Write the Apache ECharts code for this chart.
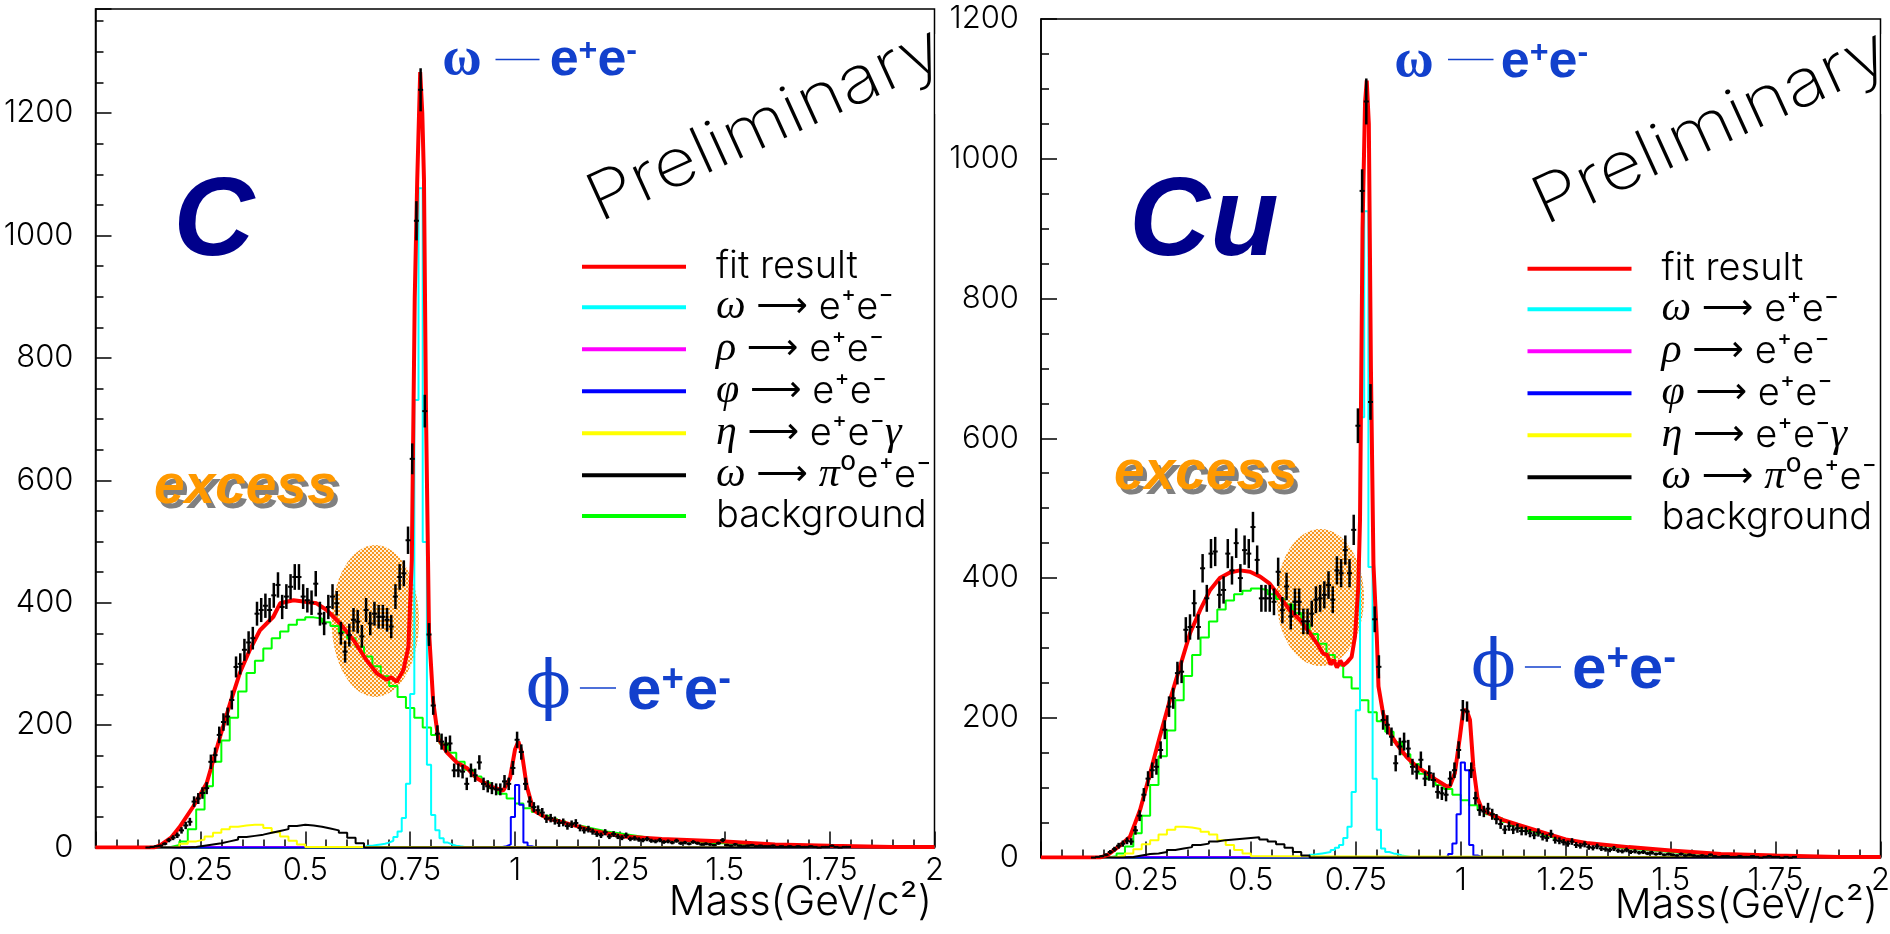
<!DOCTYPE html>
<html>
<head>
  <meta charset="utf-8">
  <title>e+e- invariant mass, C and Cu</title>
  <script src="https://cdn.jsdelivr.net/npm/echarts@6/dist/echarts.min.js"></script>
</head>
<body style="margin:0;background:#fff;">
<div id="main" style="width:1890px;height:934px;"></div>
<script type="text/javascript">
  // ---- C target (left panel) ----
  // fit result curve, [mass, counts]
  var cFit = [[0,0],[0.14,0],[0.155,4],[0.18,16],[0.2,33],[0.233,67],[0.265,105],[0.297,181],[0.321,236],[0.344,285],
    [0.368,323],[0.392,355],[0.424,377],[0.44,399],[0.472,404],[0.495,402],[0.527,399],[0.551,388],[0.583,366],
    [0.615,339],[0.646,306],[0.67,285],[0.694,274],[0.705,278],[0.718,271],[0.734,290],[0.746,328],[0.754,470],
    [0.761,898],[0.767,1092],[0.774,1267],[0.779,1200],[0.783,1092],[0.788,703],[0.795,353],[0.805,238],[0.817,178],
    [0.837,156],[0.861,139],[0.885,130],[0.909,113],[0.941,100],[0.972,93],[0.988,113],[1.0,160],[1.008,173],
    [1.016,156],[1.028,100],[1.044,61],[1.076,48],[1.115,41],[1.195,26],[1.258,18],[1.35,14],[1.5,10],[1.62,5],
    [1.75,3],[1.9,1],[2,1]];
  // measured counts, bins of 0.01 starting at centre 0.125
  var cData = [0,1,2,
    3,6,12,16,20,28,36,42,75,80, 89,97,140,151,184,205,214,241,295,300,
    323,335,342,382,388,395,388,412,429,393, 410,426,442,442,410,404,400,431,382,366,
    393,410,399,350,320,347,372,369,345,388, 366,382,377,377,372,361,410,442,448,502,
    635,1024,1238,713,348,232,186,173,168,170, 126,126,124,104,126,118,139,104,100,97,
    95,95,108,104,130,176,156,104,75,66, 61,57,47,48,44,40,41,35,38,40,
    32,28,30,26,22,20,25,18,22,18, 16,20,14,15,13,12,14,11,10,12,
    9,10,8,11,7,8,6,9,7,5, 6,5,4,7,12,4,3,5,3,2,
    3,4,2,3,2,2,3,1,2,1, 2,1,2,1,1,2,1,0,1,1, 3,1,0,1,1];
  // component histograms (low edge, bin width given where used)
  var cOmega = [3,3,4,5,6,8,11,17,26,48,104,251,731,1077,499,135,53,28,15,8,5,3,2,1];      // from 0.64, w 0.01
  var cRho = [1,1,1,1,1,1,1,1,1,1,1,1,1,1,1,1];                                           // from 0.20, w 0.02
  var cPhi = [1,2,5,50,102,70,8,2,0];                                                     // from 0.96, w 0.01
  var cEta = [1,6,10,13,18,24,30,34,36,37,37,32,25,18,11,5,1];                            // from 0.18, w 0.02
  var cOmDal = [1,3,5,7,10,13,17,19,21,24,27,30,35,37,36,34,31,28,24,16,7];               // from 0.22, w 0.02
  var cBkg = [0,1,4,10,30,62,100,140,175,212,255,285,305,325,342,353,364,372,376,374,368,362,352,342,
    328,312,296,280,264,246,228,212,196,184,170,155,140,127,116,106,97,88,80,72,64,58,52,47,43,39,35,
    32,29,26,24,22,20,18,16,15,13,12,11,10,9,8,7,7,6,5,5,4,4,3,3,3,2,2,2,2,1,1,1,1,1,1,1,1,1,1,0,0,0]; // from 0.14, w 0.02

  // ---- Cu target (right panel) ----
  var cuFit = [[0,0],[0.14,0],[0.159,4],[0.188,17],[0.212,30],[0.236,68],[0.26,121],[0.283,173],[0.307,225],
    [0.331,273],[0.355,321],[0.379,354],[0.403,383],[0.426,400],[0.45,408],[0.474,411],[0.498,409],[0.522,402],
    [0.545,392],[0.569,373],[0.593,354],[0.617,340],[0.641,321],[0.657,307],[0.672,292],[0.682,290],[0.69,276],
    [0.697,283],[0.705,272],[0.713,282],[0.72,275],[0.73,280],[0.74,287],[0.748,316],[0.756,388],[0.76,483],
    [0.766,900],[0.772,1080],[0.776,1112],[0.781,1050],[0.786,700],[0.792,420],[0.8,316],[0.804,245],[0.815,206],
    [0.831,178],[0.847,163],[0.871,144],[0.895,130],[0.919,121],[0.942,111],[0.966,102],[0.974,102],[0.986,121],
    [0.998,173],[1.006,211],[1.014,211],[1.022,197],[1.03,130],[1.04,85],[1.05,70],[1.064,64],[1.1,54],[1.136,47],
    [1.207,34],[1.25,26],[1.3,21],[1.4,15],[1.5,10],[1.62,5],[1.75,3],[1.9,1],[2,1]];
  var cuData = [0,1,2,
    4,8,12,17,20,24,23,39,60,90, 113,125,130,154,183,216,228,264,266,326,
    330,364,330,414,371,435,438,376,383,435, 411,450,400,440,435,473,426,371,371,371,
    366,409,354,388,345,366,366,338,338,349, 369,371,376,390,369,411,407,440,407,469,
    618,954,1082,652,341,273,197,190,173,135, 159,166,156,130,123,140,113,121,111,94,
    92,90,113,125,154,211,209,125,85,68, 66,70,62,55,48,40,45,40,42,38,
    38,35,32,36,30,28,34,25,24,22, 20,23,18,17,19,15,14,16,13,12,
    11,13,10,9,11,8,9,7,8,6, 7,5,6,4,5,4,3,5,3,4,
    3,2,3,2,4,2,1,2,2,1, 1,2,1,1,2,1,0,1,2,1, 1,0,1,0,1];
  var cuOmega = [4,5,6,7,8,11,14,18,28,44,94,211,630,925,416,113,40,13,8,6,5,3,2,1];        // from 0.64, w 0.01
  var cuRho = [1,1,1,1,1,1,1,1,1,1,1,1,1,1,1,1,1,1];                                     // from 0.20, w 0.02
  var cuPhi = [2,5,20,62,136,125,18,3,1];                                                 // from 0.96, w 0.01
  var cuEta = [1,3,6,12,19,25,33,40,44,43,41,37,33,25,18,11,6,2];                         // from 0.16, w 0.02
  var cuOmDal = [1,3,5,6,8,11,13,15,18,20,23,25,26,27,28,29,26,23,19,14,8,3];             // from 0.20, w 0.02
  var cuBkg = [0,2,6,16,35,60,104,145,182,225,260,290,315,338,355,368,377,382,385,383,377,370,362,350,
    334,320,306,290,275,258,242,225,208,195,180,165,148,134,120,112,104,98,90,82,75,68,62,56,51,46,42,
    38,34,31,28,25,23,21,19,17,15,14,13,12,11,10,9,8,7,6,6,5,5,4,4,3,3,3,2,2,2,2,1,1,1,1,1,1,1,1,1,1,1]; // from 0.14, w 0.02

  var legendNames = ['fit result', 'omega', 'rho', 'phi', 'eta', 'omega Dalitz', 'background'];
  var legendText = {
    'fit result': 'fit result',
    'omega': '{g|ω} {a|⟶} e⁺e⁻',
    'rho': '{g|ρ} {a|⟶} e⁺e⁻',
    'phi': '{g|φ} {a|⟶} e⁺e⁻',
    'eta': '{g|η} {a|⟶} e⁺e⁻{g|γ}',
    'omega Dalitz': '{g|ω} {a|⟶} {g|π}⁰e⁺e⁻',
    'background': 'background'
  };

  // step histogram: bins [lo + i*w, lo + (i+1)*w)
  function hist(lo, w, vals) {
    var pts = [[0, 0]];
    for (var i = 0; i < vals.length; i++) pts.push([+(lo + i * w).toFixed(3), vals[i]]);
    pts.push([+(lo + vals.length * w).toFixed(3), 0]);
    pts.push([2, 0]);
    return pts;
  }
  function points(lo, vals) {
    return vals.map(function (v, i) { return [+(lo + i * 0.01).toFixed(3), v]; });
  }
  function cross(params, api) {
    var x = api.value(0), y = api.value(1), e = Math.sqrt(y);
    var a = api.coord([x - 0.006, y]), b = api.coord([x + 0.006, y]);
    var t = api.coord([x, y + e]), u = api.coord([x, y - e]);
    return {type: 'group', children: [
      {type: 'line', shape: {x1: a[0], y1: a[1], x2: b[0], y2: b[1]}, style: {stroke: '#000', lineWidth: 2}},
      {type: 'line', shape: {x1: t[0], y1: t[1], x2: u[0], y2: u[1]}, style: {stroke: '#000', lineWidth: 2.5}}
    ]};
  }
  function histSeries(name, color, data, gi, width) {
    return {name: name, type: 'line', xAxisIndex: gi, yAxisIndex: gi === 0 ? 0 : 2, data: data, step: 'end',
      showSymbol: false, symbol: 'none', color: color, lineStyle: {color: color, width: width || 2}, silent: true};
  }
  function panelSeries(gi, fit, data, om, rho, phi, eta, omd, bkg) {
    return [
      histSeries('background', '#00ff00', hist(0.14, 0.02, bkg), gi),
      histSeries('omega', '#00ffff', hist(0.64, 0.01, om), gi),
      histSeries('rho', '#ff00ff', hist(0.20, 0.02, rho), gi),
      histSeries('phi', '#0000ff', hist(0.96, 0.01, phi), gi),
      histSeries('eta', '#ffff00', hist(gi === 0 ? 0.18 : 0.16, 0.02, eta), gi),
      histSeries('omega Dalitz', '#000000', hist(gi === 0 ? 0.22 : 0.20, 0.02, omd), gi),
      {name: 'fit result', type: 'line', xAxisIndex: gi, yAxisIndex: gi === 0 ? 0 : 2, data: fit, showSymbol: false,
        symbol: 'none', color: '#ff0000', lineStyle: {color: '#ff0000', width: 4}, silent: true},
      {name: 'data', type: 'custom', xAxisIndex: gi, yAxisIndex: gi === 0 ? 0 : 2, data: points(0.125, data),
        renderItem: cross, silent: true, z: 5}
    ];
  }

  var black = {color: '#000', width: 1.5};
  var labelFont = {fontFamily: 'Inter', fontWeight: 300, fontSize: 31, color: '#000'};
  function plain(v) { return String(v); }
  function xAxis(gi) {
    return {type: 'value', gridIndex: gi, min: 0, max: 2, interval: 0.25,
      axisLine: {show: true, lineStyle: black}, axisTick: {inside: true, length: 16, lineStyle: black},
      minorTick: {show: true, splitNumber: 5, length: 8, lineStyle: black},
      axisLabel: Object.assign({margin: 8, formatter: function (v) { return v === 0 ? '' : String(v); }}, labelFont),
      splitLine: {show: false}};
  }

  // hatched fill for the "excess" ellipses
  var pat = document.createElement('canvas');
  pat.width = 4; pat.height = 4;
  var pg = pat.getContext('2d');
  pg.fillStyle = '#fff1dc'; pg.fillRect(0, 0, 4, 4);
  pg.fillStyle = '#f7961f'; pg.fillRect(0, 0, 2, 2); pg.fillRect(2, 2, 2, 2);

  var blue = '#1240cc';
  function eePlus(x, y, size) {
    return {type: 'text', x: x, y: y, style: {text: 'e{s|+}e{s|-}', fontFamily: 'Liberation Sans', fontWeight: 'bold',
      fontSize: size, lineHeight: size, fill: blue, align: 'left', verticalAlign: 'middle',
      rich: {s: {fontFamily: 'Liberation Sans', fontWeight: 'bold', fontSize: size * 0.62, lineHeight: size * 0.62,
        fill: blue, verticalAlign: 'top'}}}};
  }
  function label(x, y, text, font, color, align) {
    return {type: 'text', x: x, y: y, style: Object.assign({text: text, fill: color, align: align || 'left', verticalAlign: 'middle'}, font)};
  }
  function dash(x1, x2, y) {
    return {type: 'line', shape: {x1: x1, y1: y, x2: x2, y2: y}, style: {stroke: blue, lineWidth: 1.5}};
  }
  function prelim(x, y) {
    return {type: 'text', x: x, y: y, rotation: 24.5 * Math.PI / 180, scaleX: 1.14,
      style: {text: 'Preliminary', fill: '#000', align: 'left', verticalAlign: 'middle',
        fontFamily: 'Inter', fontWeight: 200, fontSize: 66}};
  }
  var bigFont = {fontFamily: 'Liberation Sans', fontWeight: 'bold', fontStyle: 'italic', fontSize: 112};
  var excessFont = {fontFamily: 'Liberation Sans', fontWeight: 'bold', fontStyle: 'italic', fontSize: 55};
  var titleFont = {fontFamily: 'Inter', fontWeight: 300, fontSize: 41};

  var graphics = [
    {type: 'ellipse', shape: {cx: 375.3, cy: 621, rx: 43.7, ry: 75.9}, style: {fill: {image: pat, repeat: 'repeat'}}, z: -1},
    {type: 'ellipse', shape: {cx: 1320.3, cy: 597.4, rx: 43.7, ry: 68.5}, style: {fill: {image: pat, repeat: 'repeat'}}, z: -1},
    label(214, 224, 'C', bigFont, '#00008b', 'center'),
    label(1204, 224, 'Cu', bigFont, '#00008b', 'center'),
    label(158, 493, 'excess', excessFont, '#808080'),
    label(154, 488, 'excess', excessFont, '#ff9900'),
    label(1118, 479, 'excess', excessFont, '#808080'),
    label(1114, 474, 'excess', excessFont, '#ff9900'),
    label(462, 60, 'ω', {fontFamily: 'Liberation Serif', fontWeight: 'bold', fontSize: 54}, blue, 'center'),
    dash(495.5, 539.5, 59.6), eePlus(549.7, 61, 52),
    label(1414, 62, 'ω', {fontFamily: 'Liberation Serif', fontWeight: 'bold', fontSize: 54}, blue, 'center'),
    dash(1448, 1493.5, 59.6), eePlus(1500.8, 63, 52),
    label(548.5, 690, 'ϕ', {fontFamily: 'DejaVu Serif', fontSize: 66}, blue, 'center'),
    dash(579.9, 616, 688), eePlus(626.9, 692, 62),
    label(1493.5, 669, 'ϕ', {fontFamily: 'DejaVu Serif', fontSize: 66}, blue, 'center'),
    dash(1524.9, 1561, 667), eePlus(1571.9, 671, 62),
    prelim(591, 204.5),
    prelim(1536.5, 207.5),
    // the rotated text is cut at the frame edge, as in the original
    {type: 'rect', shape: {x: 935.5, y: 34, width: 10, height: 80}, style: {fill: '#fff'}, z: 10},
    {type: 'rect', shape: {x: 1881.5, y: 34, width: 10, height: 80}, style: {fill: '#fff'}, z: 10},
    label(932, 903, 'Mass(GeV/c²)', titleFont, '#000', 'right'),
    label(1878, 906, 'Mass(GeV/c²)', titleFont, '#000', 'right')
  ];

  function legend(left, top) {
    return {show: true, orient: 'vertical', left: left, top: top, itemWidth: 104, itemHeight: 4, itemGap: 0,
      icon: 'rect', selectedMode: false, data: legendNames,
      formatter: function (n) { return legendText[n]; },
      textStyle: {fontFamily: 'Inter', fontWeight: 300, fontSize: 38, color: '#000', lineHeight: 39.3, padding: [0, 0, 0, 25],
        rich: {
          g: {fontFamily: 'Liberation Serif', fontStyle: 'italic', fontSize: 42, lineHeight: 39.3},
          a: {fontFamily: 'DejaVu Sans', fontWeight: 'normal', fontSize: 36, lineHeight: 39.3}
        }}};
  }

  var myChart = echarts.init(document.getElementById('main'));
  var option = {
    animation: false,
    backgroundColor: '#fff',
    grid: [
      {left: 95.5, top: 9, width: 839, height: 838.5, show: true, borderColor: '#000', borderWidth: 1.5, outerBoundsMode: 'none'},
      {left: 1041, top: 19, width: 839.5, height: 838.6, show: true, borderColor: '#000', borderWidth: 1.5, outerBoundsMode: 'none'}
    ],
    xAxis: [xAxis(0), xAxis(1)],
    yAxis: [
      {type: 'value', gridIndex: 0, position: 'left', min: 0, max: 1370, interval: 200,
        axisLine: {show: true, lineStyle: black}, axisTick: {inside: true, length: 16, lineStyle: black},
        axisLabel: Object.assign({margin: 22, formatter: function (v) { return v % 200 === 0 ? String(v) : ''; }}, labelFont),
        splitLine: {show: false}},
      {type: 'value', gridIndex: 0, position: 'left', min: 0, max: 1370, interval: 50,
        axisLine: {show: false}, axisTick: {inside: true, length: 8, lineStyle: black},
        axisLabel: {show: false}, splitLine: {show: false}},
      {type: 'value', gridIndex: 1, position: 'left', min: 0, max: 1200, interval: 200,
        axisLine: {show: true, lineStyle: black}, axisTick: {inside: true, length: 16, lineStyle: black},
        minorTick: {show: true, splitNumber: 4, length: 8, lineStyle: black},
        axisLabel: Object.assign({margin: 22, formatter: plain}, labelFont), splitLine: {show: false}}
    ],
    legend: [legend(577, 242), legend(1522.5, 244)],
    graphic: graphics,
    series: panelSeries(0, cFit, cData, cOmega, cRho, cPhi, cEta, cOmDal, cBkg)
      .concat(panelSeries(1, cuFit, cuData, cuOmega, cuRho, cuPhi, cuEta, cuOmDal, cuBkg))
  };
  myChart.setOption(option);
</script>
</body>
</html>
